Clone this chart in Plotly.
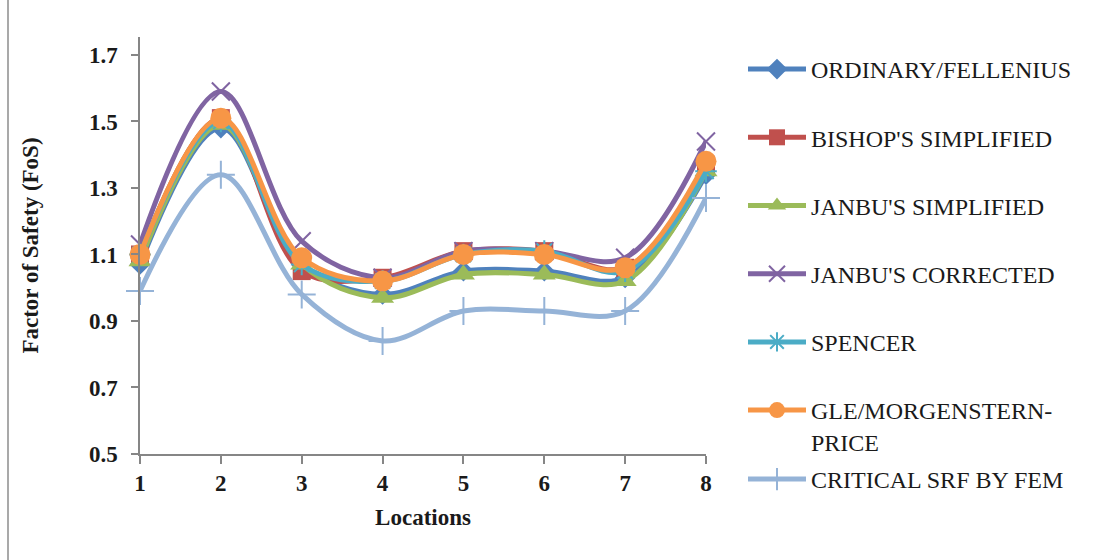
import plotly.graph_objects as go

# Factor of safety at each location, by analysis method
locations = [1, 2, 3, 4, 5, 6, 7, 8]
ordinary = [1.07, 1.48, 1.07, 0.98, 1.05, 1.05, 1.03, 1.34]
bishop = [1.10, 1.51, 1.05, 1.03, 1.11, 1.11, 1.06, 1.37]
janbu_simplified = [1.08, 1.49, 1.07, 0.97, 1.04, 1.04, 1.02, 1.35]
janbu_corrected = [1.13, 1.59, 1.14, 1.03, 1.11, 1.11, 1.09, 1.44]
spencer = [1.10, 1.50, 1.07, 1.02, 1.10, 1.11, 1.05, 1.35]
gle = [1.10, 1.51, 1.09, 1.02, 1.10, 1.10, 1.06, 1.38]
fem_srf = [0.99, 1.34, 0.98, 0.84, 0.93, 0.93, 0.93, 1.27]

y_ticks = [0.5, 0.7, 0.9, 1.1, 1.3, 1.5, 1.7]

series = [
    ("ORDINARY/FELLENIUS", ordinary, "#4F81BD", "diamond", 16, "legend"),
    ("BISHOP'S SIMPLIFIED", bishop, "#C0504D", "square", 18, "legend"),
    ("JANBU'S SIMPLIFIED", janbu_simplified, "#9BBB59", "triangle-up", 20, "legend"),
    ("JANBU'S CORRECTED", janbu_corrected, "#8064A2", "x-thin", 18, "legend"),
    ("SPENCER", spencer, "#4BACC6", "asterisk", 18, "legend"),
    ("GLE/MORGENSTERN-<br>PRICE", gle, "#F79646", "circle", 21, "legend"),
    ("CRITICAL SRF BY FEM", fem_srf, "#95B3D7", "cross-thin", 20, "legend2"),
]

fig = go.Figure()
for name, vals, color, symbol, size, lg in series:
    thin = symbol.endswith("-thin") or symbol == "asterisk"
    fig.add_trace(go.Scatter(
        x=locations, y=vals, name=name, mode="lines+markers",
        line=dict(color=color, width=5, shape="spline", smoothing=1),
        marker=dict(symbol=symbol, size=size, color=color,
                    line=dict(color=color, width=2 if thin else 0)),
        cliponaxis=False, legend=lg, legendgroup=name,
    ))

serif = "Liberation Serif, Times New Roman, serif"
text_color = "#1a1a1a"
legend_common = dict(
    xref="container", yref="container", xanchor="left", yanchor="top",
    font=dict(family=serif, size=24, color=text_color),
    bgcolor="rgba(0,0,0,0)", itemwidth=58, valign="top",
    tracegroupgap=34, maxheight=540,
)
axis_font = dict(family=serif, size=23, color=text_color, weight="bold")

fig.update_layout(
    width=1095, height=560,
    margin=dict(l=140, r=389, t=37, b=106),
    paper_bgcolor="white", plot_bgcolor="white",
    showlegend=True,
    legend=dict(x=743 / 1095, y=1 - 47 / 560, traceorder="grouped", **legend_common),
    legend2=dict(x=743 / 1095, y=1 - 457 / 560, **legend_common),
    xaxis=dict(
        range=[1, 8], tickvals=locations, ticktext=[str(v) for v in locations],
        showline=True, linecolor="#868686", linewidth=1.5,
        ticks="outside", ticklen=8, tickcolor="#868686", tickwidth=1.5,
        showgrid=False, zeroline=False, tickfont=axis_font,
        title=dict(text="Locations", standoff=14, font=axis_font),
    ),
    yaxis=dict(
        range=[0.5, 1.754], tickvals=y_ticks, ticktext=[f"{v:.1f}" for v in y_ticks],
        showline=True, linecolor="#868686", linewidth=1.5,
        ticks="outside", ticklen=7, tickcolor="#868686", tickwidth=1.5,
        ticklabelstandoff=9,
        showgrid=False, zeroline=False, tickfont=axis_font,
        title=dict(text="Factor of Safety (FoS)", standoff=44, font=axis_font),
    ),
    shapes=[dict(type="line", xref="paper", yref="paper",
                 x0=-132 / 566, x1=-132 / 566, y0=-106 / 417, y1=1 + 37 / 417,
                 line=dict(color="#8c8c8c", width=1.5))],
)

fig.write_html("out.html")
